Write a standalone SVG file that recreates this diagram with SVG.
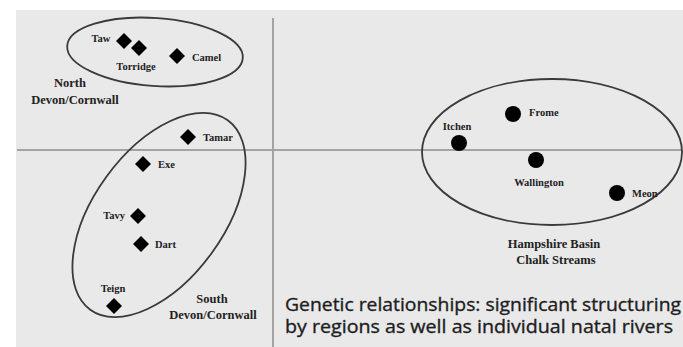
<svg xmlns="http://www.w3.org/2000/svg" width="683" height="347" viewBox="0 0 683 347">
<style>
.lbl{font-family:"Liberation Serif","Times New Roman",serif;font-weight:bold;font-size:10.5px;fill:#222}
.reg{font-family:"Liberation Serif","Times New Roman",serif;font-weight:bold;font-size:12.5px;fill:#222}
.grp{fill:none;stroke:#3a3a3a;stroke-width:1.8}
.axis{stroke:#a3a3a3;stroke-width:2}
.cap{font-family:"Open Sans","Noto Sans","Liberation Sans",sans-serif;font-size:18px;fill:#1e1e1e;stroke:#1e1e1e;stroke-width:0.35}
</style>
<defs>
<path id="dia" d="M0,-8 L8,0 L0,8 L-8,0 Z" fill="#000"/>
<circle id="dot" r="8" fill="#000"/>
</defs>
<rect x="0" y="0" width="683" height="347" fill="#ffffff"/>
<rect x="16" y="10" width="667" height="337" fill="#e9e9e9"/>
<g id="axes">
<line class="axis" x1="273" y1="18" x2="273" y2="347"/>
<line class="axis" x1="17" y1="150" x2="681" y2="150"/>
</g>
<g id="north-group">
<ellipse class="grp" cx="155" cy="52" rx="88" ry="34" transform="rotate(4 155 52)"/>
<text class="reg" x="70" y="87" text-anchor="middle">North</text>
<text class="reg" x="75" y="104" text-anchor="middle">Devon/Cornwall</text>
</g>
<g id="taw"><use href="#dia" x="124" y="41"/><text class="lbl" x="101" y="42" text-anchor="middle">Taw</text></g>
<g id="torridge"><use href="#dia" x="139" y="48"/><text class="lbl" x="136" y="70" text-anchor="middle">Torridge</text></g>
<g id="camel"><use href="#dia" x="177" y="56"/><text class="lbl" x="192" y="61">Camel</text></g>
<g id="south-group">
<ellipse class="grp" cx="159" cy="215" rx="117" ry="65" transform="rotate(-54 159 215)"/>
<text class="reg" x="212" y="303" text-anchor="middle">South</text>
<text class="reg" x="213" y="319" text-anchor="middle">Devon/Cornwall</text>
</g>
<g id="tamar"><use href="#dia" x="188" y="137"/><text class="lbl" x="203" y="141">Tamar</text></g>
<g id="exe"><use href="#dia" x="143" y="164"/><text class="lbl" x="158" y="168">Exe</text></g>
<g id="tavy"><use href="#dia" x="138" y="216"/><text class="lbl" x="125" y="219" text-anchor="end">Tavy</text></g>
<g id="dart"><use href="#dia" x="141" y="244"/><text class="lbl" x="155" y="248">Dart</text></g>
<g id="teign"><use href="#dia" x="114" y="306"/><text class="lbl" x="113" y="292" text-anchor="middle">Teign</text></g>
<g id="hampshire-group">
<ellipse class="grp" cx="552" cy="152" rx="130" ry="73"/>
<text class="reg" x="554" y="248" text-anchor="middle">Hampshire Basin</text>
<text class="reg" x="556" y="264" text-anchor="middle">Chalk Streams</text>
</g>
<g id="frome"><use href="#dot" x="513" y="114"/><text class="lbl" x="529" y="116">Frome</text></g>
<g id="itchen"><use href="#dot" x="459" y="143"/><text class="lbl" x="457" y="130" text-anchor="middle">Itchen</text></g>
<g id="wallington"><use href="#dot" x="536" y="160"/><text class="lbl" x="539" y="186" text-anchor="middle">Wallington</text></g>
<g id="meon"><use href="#dot" x="617" y="193"/><text class="lbl" x="632" y="197">Meon</text></g>
<g id="caption">
<text class="cap" x="285" y="311" textLength="396" lengthAdjust="spacingAndGlyphs">Genetic relationships: significant structuring</text>
<text class="cap" x="285" y="333" textLength="388" lengthAdjust="spacingAndGlyphs">by regions as well as individual natal rivers</text>
</g>
</svg>
